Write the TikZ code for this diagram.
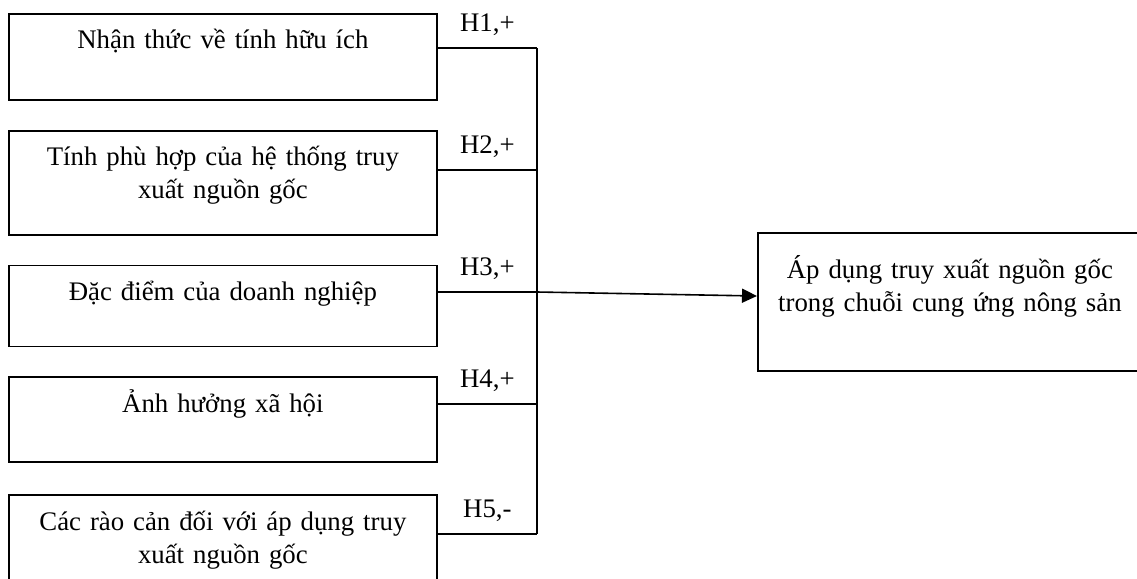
\documentclass[tikz,border=0pt]{standalone}
\usepackage{fontspec}
\setmainfont{Liberation Serif}
\usetikzlibrary{positioning,arrows.meta}

\begin{document}
\begin{tikzpicture}[x=0.5pt, y=-0.5pt, node distance=14.5pt,
        font=\fontsize{13.4}{16.5}\selectfont,
        factor/.style={draw, rectangle, line width=0.9pt, inner sep=0pt, text width=214pt, align=center, text height=17.5pt},
        hlabel/.style={anchor=base, yshift=8.5pt, inner sep=0pt},
        link/.style={line width=0.8pt}]
                \useasboundingbox (0,0) rectangle (1137,579);
                \clip (0,0) rectangle (1137,579);

                \node[factor, text depth=25.5pt, anchor=north west] (f1) at (8,13) {Nhận thức về tính hữu ích};
                \node[factor, text depth=34.5pt, below=of f1] (f2) {Tính phù hợp của hệ thống truy\\xuất nguồn gốc};
                \node[factor, text depth=23pt, below=of f2] (f3) {Đặc điểm của doanh nghiệp};
                \node[factor, text depth=25pt, below=of f3] (f4) {Ảnh hưởng xã hội};
                \node[factor, text depth=34.5pt, below=15.5pt of f4] (f5) {Các rào cản đối với áp dụng truy\\xuất nguồn gốc};
                \node[factor, text width=192pt, text height=22.5pt, text depth=46.5pt, anchor=west] (adopt) at (757,302) {Áp dụng truy xuất nguồn gốc\\trong chuỗi cung ứng nông sản};

                \coordinate (j1) at (537,48);
                \coordinate (j2) at (537,170);
                \coordinate (j3) at (537,292);
                \coordinate (j4) at (537,404);
                \coordinate (j5) at (537,534);

                \path[link]
                    (f1.east |- j1) edge node[hlabel] {H1,+} (j1)
                    (f2.east |- j2) edge node[hlabel] {H2,+} (j2)
                    (f3.east |- j3) edge node[hlabel] {H3,+} (j3)
                    (f4.east |- j4) edge node[hlabel] {H4,+} (j4)
                    (f5.east |- j5) edge node[hlabel] {H5,-} (j5)
                    (j1) edge (j5)
                    (j3) edge[-{Triangle[length=7.5pt, width=7pt]}] ([yshift=3pt]adopt.west)
                    ;
            \end{tikzpicture}
\end{document}
